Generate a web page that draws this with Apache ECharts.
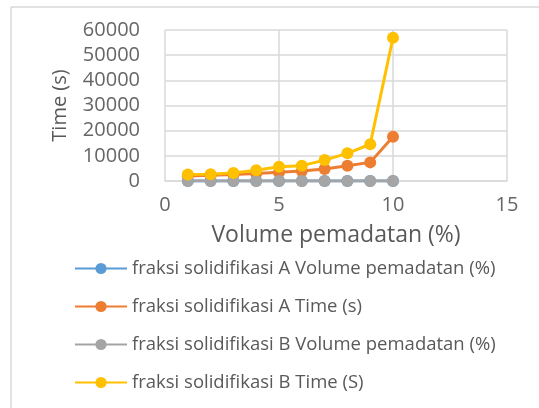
<!DOCTYPE html>
<html><head><meta charset="utf-8">
<script src="https://cdn.jsdelivr.net/npm/echarts@6/dist/echarts.min.js"></script>
<style>html,body{margin:0;padding:0;background:#fff}#c{width:539px;height:408px}</style>
</head><body><div id="c"></div>
<script>
const xValues = [1, 2, 3, 4, 5, 6, 7, 8, 9, 10];
const aVolume = [1, 2, 3, 4, 5, 6, 7, 8, 9, 10];
const aTime = [2000, 2300, 2600, 3000, 3500, 4000, 4800, 6100, 7400, 17600];
const bVolume = [1, 2, 3, 4, 5, 6, 7, 8, 9, 10];
const bTime = [2600, 2700, 3200, 4300, 5700, 6100, 8300, 11000, 14600, 56900];
const seriesNames = [
  'fraksi solidifikasi A Volume pemadatan (%)',
  'fraksi solidifikasi A Time (s)',
  'fraksi solidifikasi B Volume pemadatan (%)',
  'fraksi solidifikasi B Time (S)'
];
const colors = ['#5B9BD5', '#ED7D31', '#A5A5A5', '#FFC000'];
const font = 'Open Sans';

const pair = ys => xValues.map((x, i) => [x, ys[i]]);
const mk = (name, ys, color) => ({
  name, type: 'line', data: pair(ys), symbol: 'circle', symbolSize: 12,
  itemStyle: { color }, lineStyle: { color, width: 3 }, showSymbol: true
});

const chart = echarts.init(document.getElementById('c'));
chart.setOption({
  animation: false,
  color: colors,
  grid: { left: 165, right: 32, top: 30, bottom: 227 },
  xAxis: {
    type: 'value', min: 0, max: 15, interval: 5,
    name: 'Volume pemadatan (%)', nameLocation: 'middle', nameGap: 43,
    nameTextStyle: { fontFamily: font, fontSize: 23, color: '#595959' },
    axisLine: { show: true, lineStyle: { color: '#d9d9d9', width: 1.5 } },
    axisTick: { show: false },
    axisLabel: { fontFamily: font, fontSize: 20, color: '#666', margin: 14 },
    splitLine: { show: true, lineStyle: { color: '#d9d9d9', width: 1.5 } }
  },
  yAxis: {
    type: 'value', min: 0, max: 60000, interval: 10000,
    name: 'Time (s)', nameLocation: 'middle', nameGap: 95, nameRotate: 90,
    nameTextStyle: { fontFamily: font, fontSize: 20, color: '#595959' },
    axisLine: { show: false }, axisTick: { show: false },
    axisLabel: { fontFamily: font, fontSize: 20, color: '#666', margin: 25,
      formatter: v => String(v) },
    splitLine: { show: true, lineStyle: { color: '#d9d9d9', width: 1.5 } }
  },
  legend: {
    orient: 'vertical', left: 74, top: 256, padding: 0,
    itemWidth: 52, itemHeight: 14, itemGap: 13,
    textStyle: { fontFamily: font, fontSize: 18.5, color: '#595959', lineHeight: 25 },
    data: seriesNames
  },
  graphic: [
    { type: 'line', shape: { x1: 11, y1: 7, x2: 539, y2: 7 }, style: { stroke: '#d9d9d9', lineWidth: 1.5 } },
    { type: 'line', shape: { x1: 11, y1: 7, x2: 11, y2: 408 }, style: { stroke: '#d9d9d9', lineWidth: 1.5 } }
  ],
  series: [
    mk(seriesNames[0], aVolume, colors[0]),
    mk(seriesNames[1], aTime, colors[1]),
    mk(seriesNames[2], bVolume, colors[2]),
    mk(seriesNames[3], bTime, colors[3])
  ]
});
</script></body></html>
